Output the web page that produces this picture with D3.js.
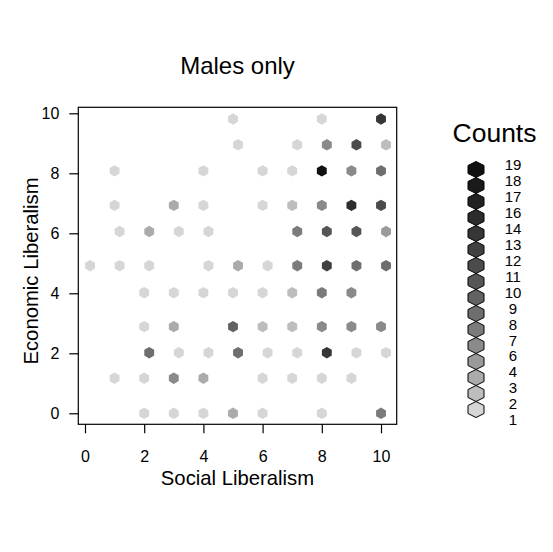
<!DOCTYPE html>
<html>
<head>
<meta charset="utf-8">
<script src="https://cdn.jsdelivr.net/npm/d3@7"></script>
<style>
body { margin: 0; background: #fff; }
text { font-family: "Liberation Sans", Arial, sans-serif; fill: #000; }
</style>
</head>
<body>
<svg id="fig" width="553" height="552"></svg>
<script>
// hexagon centres (data units) and their counts, row by row from the top
const hexX = [
  5, 8, 10,
  5.17, 7.17, 8.17, 9.17, 10.17,
  1, 4, 6, 7, 8, 9, 10,
  1, 3, 4, 6, 7, 8, 9, 10,
  1.17, 2.17, 3.17, 4.17, 7.17, 8.17, 9.17, 10.17,
  0.17, 1.17, 2.17, 4.17, 5.17, 6.17, 7.17, 8.17, 9.17, 10.17,
  2, 3, 4, 5, 6, 7, 8, 9,
  2, 3, 5, 6, 7, 8, 9, 10,
  2.17, 3.17, 4.17, 5.17, 6.17, 7.17, 8.17, 9.17, 10.17,
  1, 2, 3, 4, 6, 7, 8, 9,
  2, 3, 4, 5, 6, 8, 10
];
const hexY = [
  9.81, 9.81, 9.81,
  8.95, 8.95, 8.95, 8.95, 8.95,
  8.08, 8.08, 8.08, 8.08, 8.08, 8.08, 8.08,
  6.93, 6.93, 6.93, 6.93, 6.93, 6.93, 6.93, 6.93,
  6.06, 6.06, 6.06, 6.06, 6.06, 6.06, 6.06, 6.06,
  4.92, 4.92, 4.92, 4.92, 4.92, 4.92, 4.92, 4.92, 4.92, 4.92,
  4.02, 4.02, 4.02, 4.02, 4.02, 4.02, 4.02, 4.02,
  2.89, 2.89, 2.89, 2.89, 2.89, 2.89, 2.89, 2.89,
  2.02, 2.02, 2.02, 2.02, 2.02, 2.02, 2.02, 2.02, 2.02,
  1.17, 1.17, 1.17, 1.17, 1.17, 1.17, 1.17, 1.17,
  0, 0, 0, 0, 0, 0, 0
];
const hexCount = [
  1, 1, 13,
  1, 1, 6, 11, 2,
  1, 1, 1, 1, 19, 6, 8,
  1, 3, 1, 1, 2, 6, 14, 11,
  1, 3, 1, 1, 7, 10, 10, 4,
  1, 1, 1, 1, 3, 1, 7, 12, 8, 8,
  1, 1, 1, 1, 1, 2, 7, 6,
  1, 3, 9, 2, 2, 6, 6, 6,
  8, 1, 1, 8, 1, 1, 13, 1, 1,
  1, 1, 6, 3, 1, 1, 1, 1,
  1, 1, 1, 3, 1, 1, 7
];

const xTicks = [0, 2, 4, 6, 8, 10];
const yTicks = [0, 2, 4, 6, 8, 10];
const countBreaks = [1, 2, 3, 4, 6, 7, 8, 9, 10, 11, 12, 13, 14, 16, 17, 18, 19];
const grayRamp = ["#d6d6d6", "#bdbdbd", "#ababab", "#9a9a9a", "#8a8a8a", "#7b7b7b",
  "#6e6e6e", "#626262", "#565656", "#4b4b4b", "#404040", "#363636",
  "#2c2c2c", "#222222", "#1a1a1a", "#111111"];

const data = hexX.map((x, i) => ({ x: x, y: hexY[i], n: hexCount[i] }));

const box = { left: 78.3, right: 396.7, top: 107.3, bottom: 424.3 };

const xScale = d3.scaleLinear().domain([-0.226, 10.53]).range([box.left, box.right]);
const yScale = d3.scaleLinear().domain([-0.367, 10.2]).range([box.bottom, box.top]);
const color = d3.scaleThreshold().domain(countBreaks.slice(1, 16)).range(grayRamp);

const Fig = d3.select("#fig");

// hexagon shape, width = one third of a unit on x
const hw = (xScale(1 / 3) - xScale(0)) / 2;
const hr = hw * 2 / Math.sqrt(3);
const hexPath = d3.line()([[0, -hr], [hw, -hr / 2], [hw, hr / 2], [0, hr], [-hw, hr / 2], [-hw, -hr / 2]]) + "Z";

Fig.selectAll(".hex")
  .data(data)
  .join("path")
  .attr("class", "hex")
  .attr("transform", d => `translate(${xScale(d.x)},${yScale(d.y)})`)
  .attr("d", hexPath)
  .attr("fill", d => color(d.n));

// box
Fig.append("rect")
  .attr("x", box.left).attr("y", box.top)
  .attr("width", box.right - box.left).attr("height", box.bottom - box.top)
  .attr("fill", "none").attr("stroke", "#000").attr("stroke-width", 1.2);

// axes
const xAxis = Fig.append("g")
  .attr("transform", `translate(0,${box.bottom})`)
  .call(d3.axisBottom(xScale).tickValues(xTicks).tickSize(9).tickPadding(17));
const yAxis = Fig.append("g")
  .attr("transform", `translate(${box.left},0)`)
  .call(d3.axisLeft(yScale).tickValues(yTicks).tickSize(9).tickPadding(10));

[xAxis, yAxis].forEach(a => {
  a.select(".domain").remove();
  a.selectAll("line").attr("stroke", "#000").attr("stroke-width", 1.2);
  a.selectAll("text").style("font-size", "16px").style("font-family", "Liberation Sans, Arial, sans-serif").attr("fill", "#000");
});

// titles
Fig.append("text")
  .attr("x", (box.left + box.right) / 2).attr("y", 74)
  .attr("text-anchor", "middle").style("font-size", "24px")
  .text("Males only");

Fig.append("text")
  .attr("x", (box.left + box.right) / 2).attr("y", 485)
  .attr("text-anchor", "middle").style("font-size", "20.3px")
  .text("Social Liberalism");

Fig.append("text")
  .attr("transform", "rotate(-90)")
  .attr("x", -271).attr("y", 38)
  .attr("text-anchor", "middle").style("font-size", "20.3px")
  .text("Economic Liberalism");

// legend
Fig.append("text")
  .attr("x", 494.5).attr("y", 141.7)
  .attr("text-anchor", "middle").style("font-size", "26.5px")
  .text("Counts");

const lw = 8, lr = 8;
const legendHex = d3.line()([[0, -lr], [lw, -lr / 2], [lw, lr / 2], [0, lr], [-lw, lr / 2], [-lw, -lr / 2]]) + "Z";
const legendColors = grayRamp.slice().reverse();

Fig.append("g")
  .selectAll("path")
  .data(legendColors)
  .join("path")
  .attr("transform", (d, i) => `translate(476,${169.5 + i * 16})`)
  .attr("d", legendHex)
  .attr("fill", d => d)
  .attr("stroke", "#000")
  .attr("stroke-width", 1);

Fig.append("g")
  .selectAll("text")
  .data(countBreaks.slice().reverse())
  .join("text")
  .attr("x", 513)
  .attr("y", (d, i) => 165 + i * 15.92)
  .attr("dy", "0.36em")
  .attr("text-anchor", "middle")
  .style("font-size", "15px")
  .text(d => d);
</script>
</body>
</html>
